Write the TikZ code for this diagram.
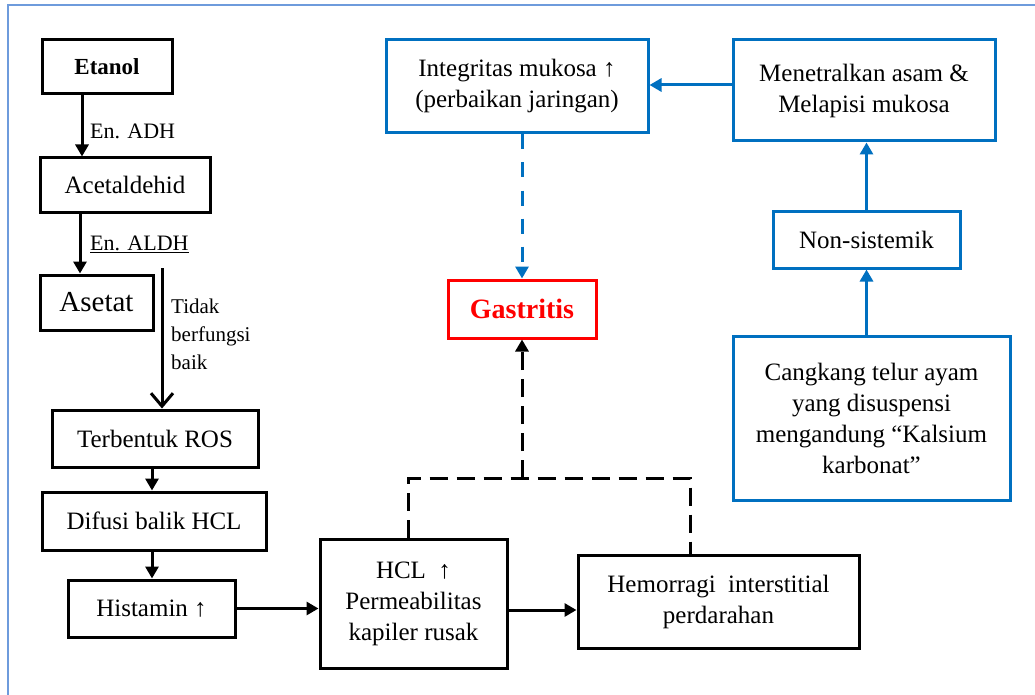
\documentclass[tikz,border=0pt]{standalone}
\usepackage{fontspec}
\setmainfont{Liberation Serif}
\usetikzlibrary{arrows.meta}
\definecolor{wblue}{RGB}{0,112,192}
\definecolor{framec}{RGB}{110,155,220}
\definecolor{wred}{RGB}{255,0,0}
\tikzset{
  box/.style={draw=black, line width=3pt, inner sep=2pt, align=center,
    font=\fontsize{25}{31}\selectfont},
  bbox/.style={box, draw=wblue},
  lbl/.style={inner sep=0pt, font=\fontsize{22}{27}\selectfont},
  arr/.style={line width=3pt, -{Triangle[length=12pt,width=13pt]}},
  barr/.style={arr, draw=wblue, color=wblue},
  dsh/.style={line width=3pt, dash pattern=on 18pt off 9pt},
  bdsh/.style={line width=3pt, draw=wblue, color=wblue, dash pattern=on 15pt off 13pt}
}
\begin{document}
\begin{tikzpicture}[x=1pt,y=-1pt]
\useasboundingbox (0,0) rectangle (1035,695);
\fill[white] (0,0) rectangle (1035,695);
% frame
\draw[framec, line width=2pt] (1035,5) -- (8,5) -- (8,695);

% left chain
\node[box, minimum width=130pt, minimum height=54pt, font=\fontsize{23}{28}\selectfont\bfseries] (etanol) at (107,67) {Etanol};
\node[box, minimum width=170pt, minimum height=54pt] (acet) at (125,185) {Acetaldehid};
\node[box, minimum width=113pt, minimum height=55pt, font=\fontsize{29}{34}\selectfont] (asetat) at (96.5,302.5) {Asetat};
\node[box, minimum width=206pt, minimum height=57pt] (ros) at (155,438.5) {Terbentuk ROS};
\node[box, minimum width=224pt, minimum height=58pt] (difusi) at (154,521) {Difusi balik HCL};
\node[box, minimum width=167pt, minimum height=57pt] (hist) at (151.5,608.5) {Histamin ↑};
\node[box, minimum width=187pt, minimum height=129pt] (hcl) at (413.5,603.5) {HCL \ ↑\\Permeabilitas\\kapiler rusak};
\node[box, minimum width=281pt, minimum height=93pt] (hemo) at (718.5,601.5) {Hemorragi \ interstitial\\perdarahan};

% gastritis
\node[box, draw=wred, text=wred, minimum width=148pt, minimum height=58pt, font=\fontsize{28}{33}\selectfont\bfseries] (gast) at (522,309) {Gastritis};

% right (blue)
\node[bbox, minimum width=262pt, minimum height=93pt] (integ) at (517,86.5) {Integritas mukosa ↑\\(perbaikan jaringan)};
\node[bbox, minimum width=262pt, minimum height=101pt] (menet) at (864,90.5) {Menetralkan asam \&\\Melapisi mukosa};
\node[bbox, minimum width=187pt, minimum height=57pt] (nons) at (866.5,239.5) {Non-sistemik};
\node[bbox, minimum width=277pt, minimum height=164pt] (cang) at (871.5,418) {Cangkang telur ayam\\yang disuspensi\\mengandung “Kalsium\\karbonat”};

% labels
\node[lbl, anchor=west] (adh) at (90,131) {En. ADH};
\node[lbl, anchor=west] (aldh) at (90,244) {\underline{En. ALDH}};
\node[lbl, anchor=north west, align=left, font=\fontsize{21}{28}\selectfont] (tidak) at (171,299) {Tidak\\berfungsi\\baik};

% helper coordinates
\coordinate (x82) at (82,0);
\coordinate (x80) at (80,0);
\coordinate (tstart) at (162,268);
\coordinate (x152) at (152,0);
\coordinate (y610) at (0,610);
\coordinate (jl) at (408,478);
\coordinate (jr) at (690,478);
\coordinate (jm) at (522,478);
\coordinate (y85) at (0,85);

% black arrows
\draw[arr] (etanol.south -| x82) -- (acet.north -| x82);
\draw[arr] (acet.south -| x80) -- (asetat.north -| x80);
\draw[line width=3pt, -{Straight Barb[length=13pt,width=22pt,line width=3pt]}] (tstart) -- (ros.north -| tstart);
\draw[arr] (ros.south -| x152) -- (difusi.north -| x152);
\draw[arr] (difusi.south -| x152) -- (hist.north -| x152);
\draw[arr] (hist.east) -- (hist.east -| hcl.west);
\draw[arr] (hcl.east |- y610) -- (hemo.west |- y610);

% dashed
\draw[dsh] (hcl.north -| jl) -- (jl) -- (jr) -- (hemo.north -| jr);
\draw[dsh, arr] (jm) -- (gast.south);
\draw[bdsh, -{Triangle[length=12pt,width=13pt]}] (gast.north |- integ.south) -- (gast.north);

% blue arrows
\draw[barr] (menet.west |- y85) -- (integ.east |- y85);
\draw[barr] (nons.north) -- (nons.north |- menet.south);
\draw[barr] (cang.north -| nons.south) -- (nons.south);
\end{tikzpicture}
\end{document}
